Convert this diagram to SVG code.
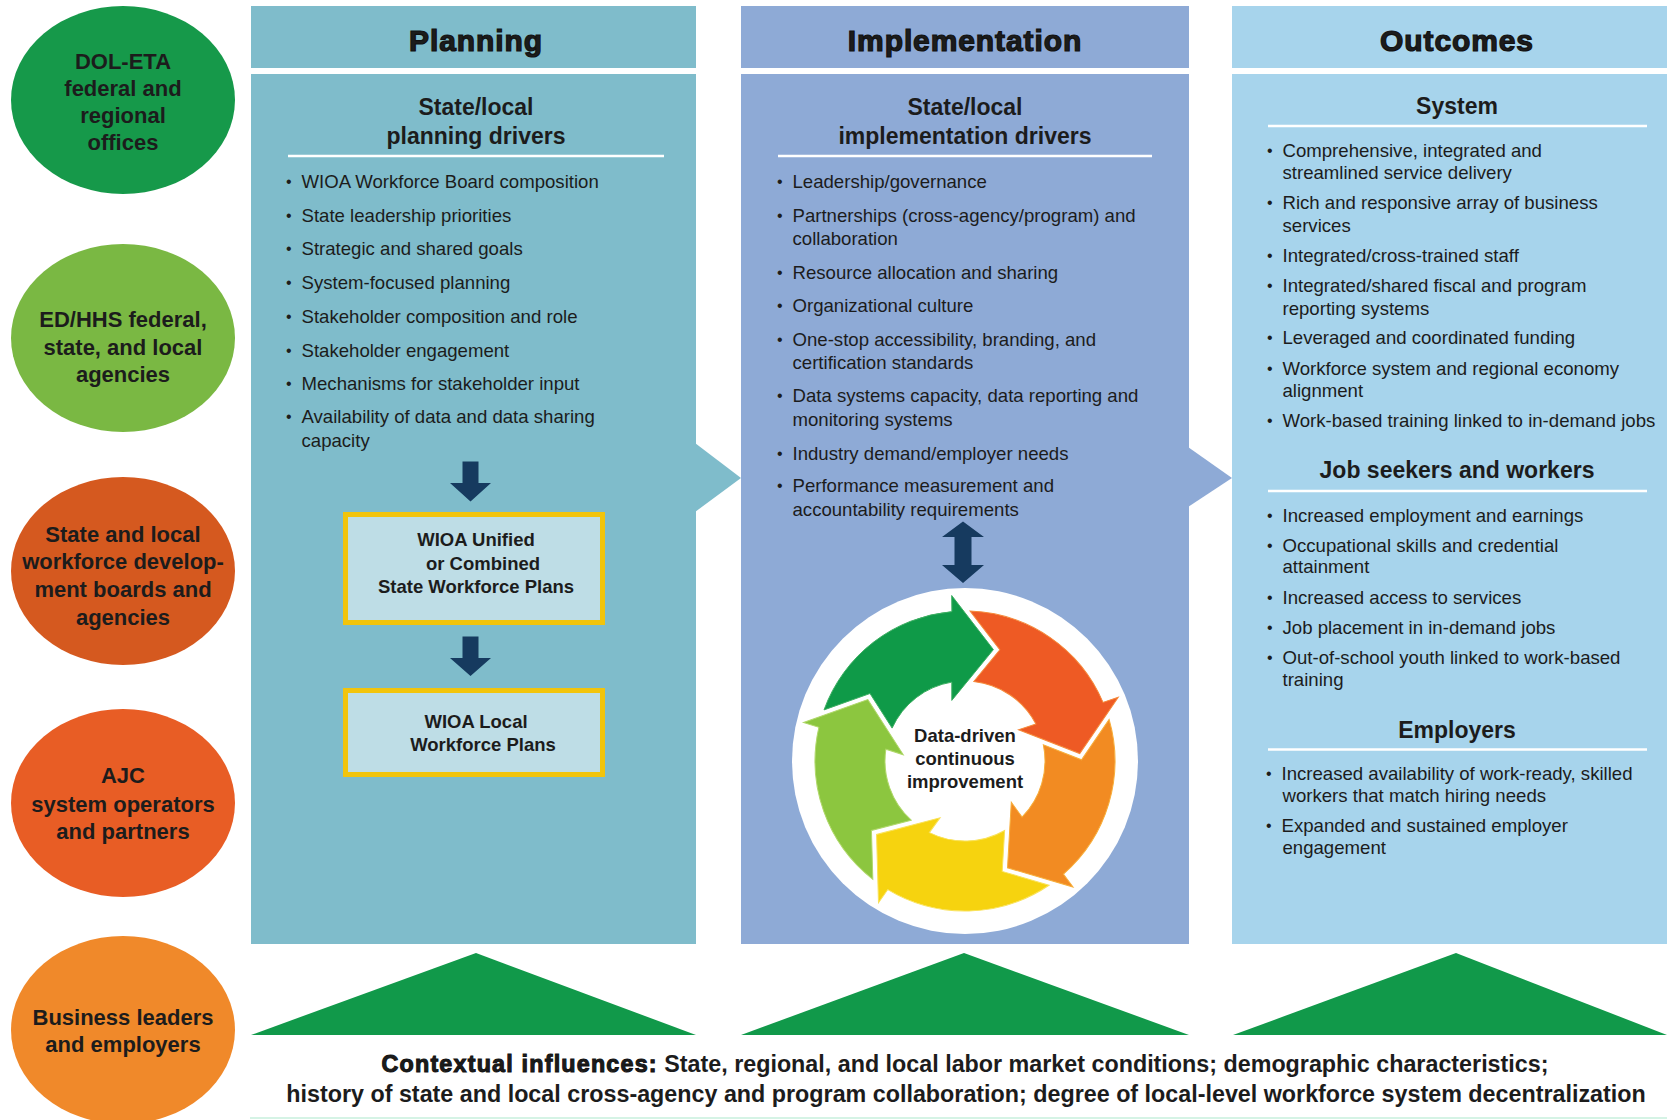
<svg xmlns="http://www.w3.org/2000/svg" xmlns:xlink="http://www.w3.org/1999/xlink" width="1667" height="1120" viewBox="0 0 1667 1120">
  <style>
    .ink { fill: #1c1c1c; font-family: "Liberation Sans", Arial, sans-serif; }
    .stake { font-size: 22px; font-weight: bold; text-anchor: middle; }
    .colhead { font-size: 30px; font-weight: bold; text-anchor: middle; letter-spacing: 0.9px; stroke: #111; stroke-width: 1.2px; }
    .subhead { font-size: 23px; font-weight: bold; text-anchor: middle; }
    .item { font-size: 18.6px; }
    .dot { font-size: 16px; }
    .plan { font-size: 18.5px; font-weight: bold; text-anchor: middle; }
    .rule { stroke: #ffffff; stroke-width: 2.5; }
    .navy { fill: #163a5f; }
    .planbox { fill: #bedde6; stroke: #f2c40c; stroke-width: 5; }
    .pyramid { fill: #11994a; }
    .context { font-size: 23.3px; font-weight: bold; text-anchor: middle; }
  </style>
  <defs>
    <!-- one segment of the five-part cycle ring, drawn around (0,0) -->
    <path id="cycArrow" d="M -141,-51.1 A 150 150 0 0 1 -13.1,-149.4 L -13.3,-165.5 L 28.4,-111.4 L -13.2,-60.6 L -13.2,-78.9 A 80 80 0 0 0 -72.9,-32.9 L -95,-67.5 Z"/>
  </defs>

  <rect x="0" y="0" width="1667" height="1120" fill="#ffffff"/>

  <!-- stakeholder circles -->
  <g id="dol-eta">
    <ellipse cx="123" cy="100" rx="112" ry="94" fill="#16994a"/>
    <text class="ink stake"><tspan x="123" y="69">DOL-ETA</tspan><tspan x="123" y="96">federal and</tspan><tspan x="123" y="123">regional</tspan><tspan x="123" y="150">offices</tspan></text>
  </g>
  <g id="ed-hhs">
    <ellipse cx="123" cy="338" rx="112" ry="94" fill="#7ab843"/>
    <text class="ink stake"><tspan x="123" y="327">ED/HHS federal,</tspan><tspan x="123" y="354.5">state, and local</tspan><tspan x="123" y="382">agencies</tspan></text>
  </g>
  <g id="workforce-boards">
    <ellipse cx="123" cy="571" rx="112" ry="94" fill="#d5591f"/>
    <text class="ink stake"><tspan x="123" y="541.5">State and local</tspan><tspan x="123" y="569">workforce develop-</tspan><tspan x="123" y="597">ment boards and</tspan><tspan x="123" y="624.5">agencies</tspan></text>
  </g>
  <g id="ajc-operators">
    <ellipse cx="123" cy="803" rx="112" ry="94" fill="#e85d25"/>
    <text class="ink stake"><tspan x="123" y="783">AJC</tspan><tspan x="123" y="811.5">system operators</tspan><tspan x="123" y="839">and partners</tspan></text>
  </g>
  <g id="business-leaders">
    <ellipse cx="123" cy="1030" rx="112" ry="94" fill="#f0892a"/>
    <text class="ink stake"><tspan x="123" y="1024.5">Business leaders</tspan><tspan x="123" y="1052">and employers</tspan></text>
  </g>

  <!-- Planning column -->
  <g id="planning">
    <rect x="251" y="6" width="445" height="62" fill="#7fbccb"/>
    <rect x="251" y="74" width="445" height="870" fill="#7fbccb"/>
    <text class="ink colhead" x="476" y="51">Planning</text>
    <text class="ink subhead"><tspan x="476" y="115">State/local</tspan><tspan x="476" y="143.5">planning drivers</tspan></text>
    <line class="rule" x1="288" y1="156" x2="664" y2="156"/>
    <g class="ink item">
      <text x="301.5" y="188">WIOA Workforce Board composition</text>
      <text x="301.5" y="221.5">State leadership priorities</text>
      <text x="301.5" y="255">Strategic and shared goals</text>
      <text x="301.5" y="289">System-focused planning</text>
      <text x="301.5" y="322.5">Stakeholder composition and role</text>
      <text x="301.5" y="356.5">Stakeholder engagement</text>
      <text x="301.5" y="390">Mechanisms for stakeholder input</text>
      <text x="301.5" y="423">Availability of data and data sharing</text>
      <text x="301.5" y="446.5">capacity</text>
    </g>
    <g class="ink dot">
      <text x="286" y="187">•</text><text x="286" y="220.5">•</text><text x="286" y="254">•</text>
      <text x="286" y="288">•</text><text x="286" y="321.5">•</text><text x="286" y="355.5">•</text>
      <text x="286" y="389">•</text><text x="286" y="422">•</text>
    </g>
  </g>

  <g id="unified-plans">
    <rect class="planbox" x="345.5" y="514.5" width="257" height="108"/>
    <text class="ink plan"><tspan x="476" y="546">WIOA Unified</tspan><tspan x="483" y="569.5">or Combined</tspan><tspan x="476" y="593">State Workforce Plans</tspan></text>
  </g>
  <g id="local-plans">
    <rect class="planbox" x="345.5" y="690.5" width="257" height="84"/>
    <text class="ink plan"><tspan x="476" y="727.5">WIOA Local</tspan><tspan x="483" y="750.5">Workforce Plans</tspan></text>
  </g>

  <!-- Implementation column -->
  <g id="implementation">
    <rect x="741" y="6" width="448" height="62" fill="#8eaad6"/>
    <rect x="741" y="74" width="448" height="870" fill="#8eaad6"/>
    <text class="ink colhead" x="965" y="51">Implementation</text>
    <text class="ink subhead"><tspan x="965" y="114.5">State/local</tspan><tspan x="965" y="143.5">implementation drivers</tspan></text>
    <line class="rule" x1="778" y1="156" x2="1152" y2="156"/>
    <g class="ink item">
      <text x="792.5" y="188">Leadership/governance</text>
      <text x="792.5" y="222">Partnerships (cross-agency/program) and</text>
      <text x="792.5" y="245">collaboration</text>
      <text x="792.5" y="278.5">Resource allocation and sharing</text>
      <text x="792.5" y="312">Organizational culture</text>
      <text x="792.5" y="346">One-stop accessibility, branding, and</text>
      <text x="792.5" y="368.5">certification standards</text>
      <text x="792.5" y="402">Data systems capacity, data reporting and</text>
      <text x="792.5" y="425.5">monitoring systems</text>
      <text x="792.5" y="459.5">Industry demand/employer needs</text>
      <text x="792.5" y="492">Performance measurement and</text>
      <text x="792.5" y="515.5">accountability requirements</text>
    </g>
    <g class="ink dot">
      <text x="777" y="187">•</text><text x="777" y="221">•</text><text x="777" y="277.5">•</text>
      <text x="777" y="311">•</text><text x="777" y="345">•</text><text x="777" y="401">•</text>
      <text x="777" y="458.5">•</text><text x="777" y="491">•</text>
    </g>
  </g>

  <g id="continuous-improvement" transform="translate(965,761)">
    <circle r="173" fill="#ffffff"/>
    <use xlink:href="#cycArrow" fill="#0f9a48" stroke="#3fb063" stroke-width="1"/>
    <use xlink:href="#cycArrow" transform="rotate(72)" fill="#ee5a24" stroke="#f58a3a" stroke-width="1"/>
    <use xlink:href="#cycArrow" transform="rotate(144)" fill="#f28b22" stroke="#f7ae3a" stroke-width="1"/>
    <use xlink:href="#cycArrow" transform="rotate(216)" fill="#f6d30f" stroke="#f9e25a" stroke-width="1"/>
    <use xlink:href="#cycArrow" transform="rotate(288)" fill="#8cc63f" stroke="#b0d86a" stroke-width="1"/>
    <text class="ink plan"><tspan x="0" y="-19">Data-driven</tspan><tspan x="0" y="4">continuous</tspan><tspan x="0" y="27">improvement</tspan></text>
  </g>

  <!-- Outcomes column -->
  <g id="outcomes">
    <rect x="1232" y="6" width="435" height="62" fill="#a7d4ec"/>
    <rect x="1232" y="74" width="435" height="870" fill="#a7d4ec"/>
    <text class="ink colhead" x="1457" y="51">Outcomes</text>
    <text class="ink subhead" x="1457" y="114">System</text>
    <line class="rule" x1="1268" y1="126" x2="1647" y2="126"/>
    <g class="ink item">
      <text x="1282.5" y="156.5">Comprehensive, integrated and</text>
      <text x="1282.5" y="179">streamlined service delivery</text>
      <text x="1282.5" y="209">Rich and responsive array of business</text>
      <text x="1282.5" y="231.5">services</text>
      <text x="1282.5" y="262">Integrated/cross-trained staff</text>
      <text x="1282.5" y="292">Integrated/shared fiscal and program</text>
      <text x="1282.5" y="314.5">reporting systems</text>
      <text x="1282.5" y="344">Leveraged and coordinated funding</text>
      <text x="1282.5" y="374.5">Workforce system and regional economy</text>
      <text x="1282.5" y="396.5">alignment</text>
      <text x="1282.5" y="427">Work-based training linked to in-demand jobs</text>
    </g>
    <g class="ink dot">
      <text x="1267" y="155.5">•</text><text x="1267" y="208">•</text><text x="1267" y="261">•</text>
      <text x="1267" y="291">•</text><text x="1267" y="343">•</text><text x="1267" y="373.5">•</text>
      <text x="1267" y="426">•</text>
    </g>

    <text class="ink subhead" x="1457" y="478">Job seekers and workers</text>
    <line class="rule" x1="1268" y1="491" x2="1647" y2="491"/>
    <g class="ink item">
      <text x="1282.5" y="521.5">Increased employment and earnings</text>
      <text x="1282.5" y="551.5">Occupational skills and credential</text>
      <text x="1282.5" y="572.5">attainment</text>
      <text x="1282.5" y="604">Increased access to services</text>
      <text x="1282.5" y="634">Job placement in in-demand jobs</text>
      <text x="1282.5" y="664">Out-of-school youth linked to work-based</text>
      <text x="1282.5" y="686">training</text>
    </g>
    <g class="ink dot">
      <text x="1267" y="520.5">•</text><text x="1267" y="550.5">•</text><text x="1267" y="603">•</text>
      <text x="1267" y="633">•</text><text x="1267" y="663">•</text>
    </g>

    <text class="ink subhead" x="1457" y="737.5">Employers</text>
    <line class="rule" x1="1268" y1="749.5" x2="1647" y2="749.5"/>
    <g class="ink item">
      <text x="1281.5" y="780">Increased availability of work-ready, skilled</text>
      <text x="1282.5" y="802">workers that match hiring needs</text>
      <text x="1281.5" y="832">Expanded and sustained employer</text>
      <text x="1282.5" y="854">engagement</text>
    </g>
    <g class="ink dot">
      <text x="1266" y="779">•</text><text x="1266" y="831">•</text>
    </g>
  </g>

  <!-- flow arrows -->
  <g id="connectors">
    <polygon points="695,443 741,478 695,512" fill="#7fbccb"/>
    <polygon points="1188,447 1232,478 1188,507" fill="#8eaad6"/>
    <polygon class="navy" points="462.5,461.5 478.5,461.5 478.5,483 491,483 470.5,501.5 450,483 462.5,483"/>
    <polygon class="navy" points="462.5,636.5 478.5,636.5 478.5,658 491,658 470.5,676 450,658 462.5,658"/>
    <polygon class="navy" points="963,521.5 984,537 971.5,537 971.5,565 984,565 963,583 942,565 954.5,565 954.5,537 942,537"/>
  </g>

  <!-- contextual influences -->
  <g id="contextual-influences">
    <polygon class="pyramid" points="251,1035 476,953 696,1035"/>
    <polygon class="pyramid" points="741,1035 964,953 1189,1035"/>
    <polygon class="pyramid" points="1233,1035 1456,953 1667,1035 1667,1035"/>
    <text class="ink context" x="965" y="1072"><tspan stroke="#111" stroke-width="1" letter-spacing="1.2">Contextual influences:</tspan> State, regional, and local labor market conditions; demographic characteristics;</text>
    <text class="ink context" x="966" y="1102">history of state and local cross-agency and program collaboration; degree of local-level workforce system decentralization</text>
    <line x1="250" y1="1118" x2="1667" y2="1118" stroke="#d5f3e5" stroke-width="2"/>
  </g>
</svg>
